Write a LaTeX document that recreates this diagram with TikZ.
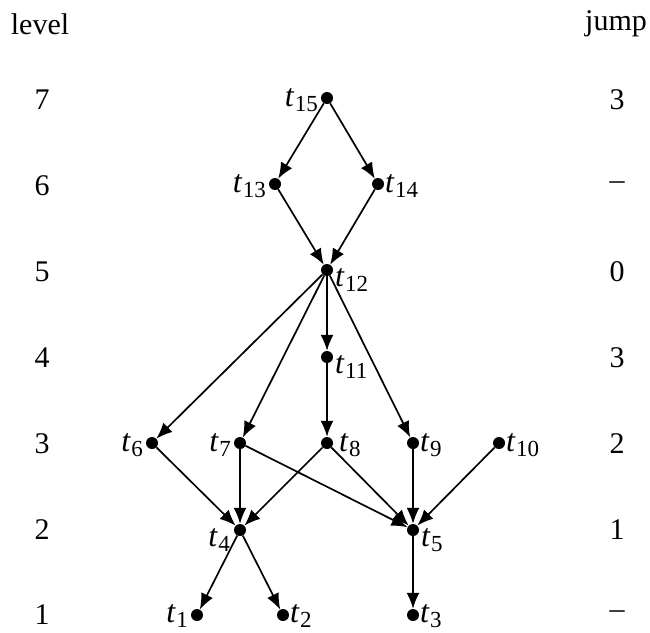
\documentclass[tikz,border=0pt]{standalone}
\usepackage{fontspec}
\setmainfont{Liberation Serif}
\usetikzlibrary{arrows.meta}
\newcommand{\tv}[1]{{\fontsize{32}{32}\selectfont\textit{t}}\kern0.5pt\raisebox{-5pt}{\fontsize{23}{23}\selectfont #1}}
\begin{document}
\begin{tikzpicture}[x=1pt,y=-1pt,
  dot/.style={circle,fill=black,inner sep=0pt,minimum size=12pt},
  labr/.style={anchor=base west,inner sep=0pt,xshift=7pt,yshift=-8pt},
  labl/.style={anchor=base east,inner sep=0pt,xshift=-9pt,yshift=-8pt},
  labrl/.style={anchor=base west,inner sep=0pt,xshift=8pt,yshift=-16pt},
  labll/.style={anchor=base east,inner sep=0pt,xshift=-10pt,yshift=-16pt},
  txt/.style={font=\fontsize{30}{30}\selectfont,inner sep=0pt},
  arr/.style={-{Latex[length=16pt,width=13pt]},line width=1.7pt}]
\useasboundingbox (0,0) rectangle (650,632);
% header
\node[txt] (hl) at (40,24) {level};
\node[txt] (hj) at (616,24) {jump};
% level numbers
\foreach \l/\y in {7/100,6/186,5/272,4/358,3/444,2/530,1/615}{
  \node[txt] (lv\l) at (42,\y) {\l};
}
\node[txt] (j7) at (617,100) {3};
\node[txt] (j6) at (617,186) {--};
\node[txt] (j5) at (617,272) {0};
\node[txt] (j4) at (617,358) {3};
\node[txt] (j3) at (617,444) {2};
\node[txt] (j2) at (617,530) {1};
\node[txt] (j1) at (617,615) {--};
% nodes
\node[dot] (t15) at (327,98) {};
\node[dot] (t13) at (275,184) {};
\node[dot] (t14) at (378,184) {};
\node[dot] (t12) at (327,270) {};
\node[dot] (t11) at (327,357) {};
\node[dot] (t6) at (152,443) {};
\node[dot] (t7) at (240,443) {};
\node[dot] (t8) at (327,443) {};
\node[dot] (t9) at (413,443) {};
\node[dot] (t10) at (499,443) {};
\node[dot] (t4) at (240,530) {};
\node[dot] (t5) at (413,530) {};
\node[dot] (t1) at (197,615) {};
\node[dot] (t2) at (283,615) {};
\node[dot] (t3) at (413,615) {};
% labels
\node[labl] (l15) at (t15) {\tv{15}};
\node[labl] (l13) at (t13) {\tv{13}};
\node[labr] (l14) at (t14) {\tv{14}};
\node[labrl] (l12) at (t12) {\tv{12}};
\node[labrl] (l11) at (t11) {\tv{11}};
\node[labl] (l6) at (t6) {\tv{6}};
\node[labl] (l7) at (t7) {\tv{7}};
\node[labr,xshift=5pt] (l8) at (t8) {\tv{8}};
\node[labr] (l9) at (t9) {\tv{9}};
\node[labr] (l10) at (t10) {\tv{10}};
\node[labll] (l4) at (t4) {\tv{4}};
\node[labrl] (l5) at (t5) {\tv{5}};
\node[labl,yshift=1pt] (l1) at (t1) {\tv{1}};
\node[labr,yshift=1pt] (l2) at (t2) {\tv{2}};
\node[labr,yshift=1pt] (l3) at (t3) {\tv{3}};
% edges
\foreach \a/\b in {t15/t13,t15/t14,t13/t12,t14/t12,t12/t6,t12/t7,t12/t11,t12/t9,t11/t8,
  t6/t4,t7/t4,t8/t4,t7/t5,t8/t5,t9/t5,t10/t5,t4/t1,t4/t2,t5/t3}{
  \draw[arr] (\a) -- (\b);
}
\end{tikzpicture}
\end{document}
